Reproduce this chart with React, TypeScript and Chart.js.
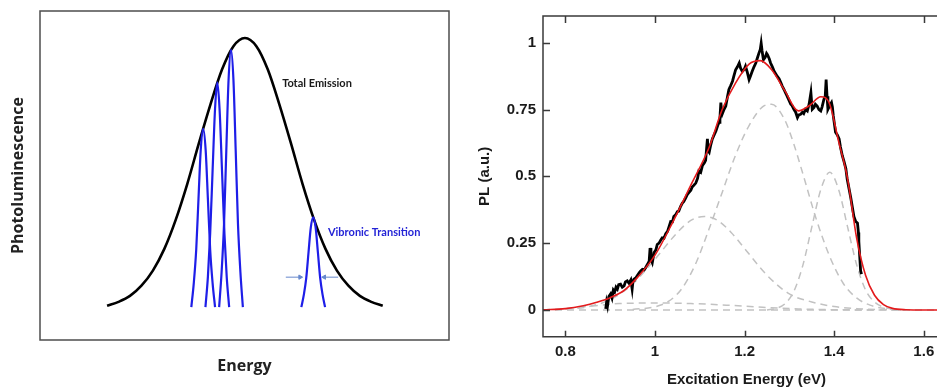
import React, { useEffect, useRef } from "react";
import { Chart, registerables } from "chart.js";

Chart.register(...registerables);

// ---------------- Left panel (schematic, arbitrary units 0..100) ----------------
const emissionX = [16.4, 19.2, 22.0, 24.8, 27.6, 30.4, 33.2, 36.0, 38.8, 41.7, 44.5, 47.3, 50.1, 52.9, 55.7, 58.5, 61.4, 64.2, 67.0, 69.8, 72.6, 75.4, 78.2, 81.0, 83.8];
const emissionY = [10.4, 11.6, 13.4, 16.5, 21.1, 27.7, 36.6, 47.4, 59.6, 71.7, 82.2, 89.3, 91.8, 89.3, 82.2, 71.7, 59.6, 47.4, 36.6, 27.7, 21.1, 16.5, 13.4, 11.6, 10.4];

const peak1X = [37.0, 37.6, 38.2, 38.75, 39.3, 39.9, 40.5, 41.05, 41.6, 42.2, 42.8];
const peak1Y = [10, 17.3, 27.6, 42.9, 57.8, 64.2, 57.8, 42.9, 27.6, 17.3, 10];
const peak2X = [40.45, 41.05, 41.6, 42.2, 42.8, 43.35, 43.9, 44.5, 45.1, 45.65, 46.25];
const peak2Y = [10, 19.2, 32.2, 51.5, 70.3, 78.3, 70.3, 51.5, 32.2, 19.2, 10];
const peak3X = [43.8, 44.4, 45.0, 45.55, 46.1, 46.7, 47.3, 47.85, 48.4, 49.0, 49.6];
const peak3Y = [10, 20.6, 35.4, 57.5, 79.0, 88.2, 79.0, 57.5, 35.4, 20.6, 10];
const vibronicX = [63.9, 64.5, 65.1, 65.65, 66.2, 66.8, 67.4, 67.95, 68.5, 69.1, 69.7];
const vibronicY = [10, 13.7, 18.9, 26.6, 34.1, 37.3, 34.1, 26.6, 18.9, 13.7, 10];

const arrowLeftX = [60.1, 63.6];
const arrowRightX = [72.9, 69.5];
const arrowY = [19.1, 19.1];

const leftNotes = ["Total Emission", "Vibronic Transition"];
const leftNoteX = [59.2, 70.4];
const leftNoteY = [78.1, 32.8];

const leftXTitle = "Energy";
const leftYTitle = "Photoluminescence";

// ---------------- Right panel (PL spectrum) ----------------
const xTickValues = [0.8, 1, 1.2, 1.4, 1.6];
const yTickValues = [0, 0.25, 0.5, 0.75, 1];
const rightXTitle = "Excitation Energy (eV)";
const rightYTitle = "PL (a.u.)";

const dataX = [0.890, 0.892, 0.894, 0.897, 0.901, 0.904, 0.907, 0.910, 0.913, 0.916, 0.919, 0.923, 0.927, 0.931, 0.934, 0.938, 0.942, 0.946, 0.949, 0.951, 0.953, 0.957, 0.961, 0.965, 0.968, 0.972, 0.976, 0.979, 0.983, 0.987, 0.989, 0.991, 0.994, 0.998, 1.002, 1.005, 1.009, 1.013, 1.016, 1.020, 1.024, 1.028, 1.031, 1.035, 1.039, 1.042, 1.046, 1.050, 1.053, 1.057, 1.061, 1.064, 1.068, 1.072, 1.076, 1.080, 1.083, 1.087, 1.091, 1.095, 1.098, 1.102, 1.106, 1.110, 1.113, 1.115, 1.117, 1.119, 1.121, 1.124, 1.128, 1.132, 1.136, 1.140, 1.143, 1.145, 1.147, 1.149, 1.150, 1.154, 1.158, 1.162, 1.165, 1.169, 1.173, 1.176, 1.180, 1.184, 1.188, 1.191, 1.195, 1.199, 1.202, 1.206, 1.210, 1.213, 1.217, 1.221, 1.225, 1.228, 1.232, 1.235, 1.237, 1.239, 1.242, 1.246, 1.249, 1.251, 1.255, 1.258, 1.262, 1.266, 1.269, 1.273, 1.277, 1.281, 1.284, 1.288, 1.292, 1.295, 1.299, 1.303, 1.306, 1.310, 1.314, 1.318, 1.321, 1.325, 1.329, 1.332, 1.336, 1.340, 1.344, 1.348, 1.350, 1.351, 1.355, 1.358, 1.362, 1.366, 1.370, 1.373, 1.377, 1.380, 1.382, 1.384, 1.386, 1.390, 1.394, 1.396, 1.398, 1.401, 1.403, 1.407, 1.411, 1.414, 1.418, 1.422, 1.426, 1.429, 1.433, 1.437, 1.441, 1.444, 1.448, 1.450, 1.452, 1.454, 1.455, 1.457, 1.459, 1.461];
const dataY = [0.004, 0.03, 0.015, 0.05, 0.06, 0.045, 0.075, 0.068, 0.085, 0.078, 0.095, 0.097, 0.085, 0.09, 0.105, 0.109, 0.1, 0.112, 0.078, 0.11, 0.115, 0.12, 0.13, 0.14, 0.146, 0.152, 0.15, 0.158, 0.17, 0.183, 0.232, 0.19, 0.177, 0.215, 0.225, 0.245, 0.25, 0.262, 0.27, 0.268, 0.285, 0.294, 0.31, 0.331, 0.33, 0.35, 0.356, 0.368, 0.37, 0.387, 0.4, 0.405, 0.418, 0.432, 0.44, 0.448, 0.46, 0.467, 0.475, 0.492, 0.52, 0.515, 0.541, 0.55, 0.56, 0.6, 0.64, 0.595, 0.59, 0.615, 0.64, 0.655, 0.67, 0.69, 0.702, 0.72, 0.776, 0.74, 0.733, 0.75, 0.763, 0.8, 0.825, 0.84, 0.856, 0.875, 0.899, 0.91, 0.924, 0.905, 0.893, 0.9, 0.912, 0.89, 0.862, 0.875, 0.893, 0.91, 0.924, 0.94, 0.961, 0.975, 0.998, 0.97, 0.936, 0.945, 0.96, 0.955, 0.94, 0.924, 0.91, 0.893, 0.885, 0.874, 0.865, 0.85, 0.838, 0.825, 0.81, 0.8, 0.785, 0.77, 0.765, 0.751, 0.74, 0.72, 0.73, 0.732, 0.74, 0.735, 0.751, 0.745, 0.77, 0.813, 0.77, 0.751, 0.758, 0.77, 0.763, 0.75, 0.745, 0.76, 0.788, 0.8, 0.862, 0.8, 0.751, 0.765, 0.776, 0.76, 0.726, 0.69, 0.665, 0.655, 0.64, 0.61, 0.578, 0.555, 0.529, 0.49, 0.455, 0.42, 0.38, 0.35, 0.331, 0.328, 0.325, 0.29, 0.257, 0.2, 0.146, 0.134];

const fitX = [0.75, 0.80, 0.84, 0.87, 0.90, 0.93, 0.96, 1.00, 1.04, 1.08, 1.12, 1.15, 1.18, 1.21, 1.235, 1.26, 1.29, 1.32, 1.345, 1.37, 1.39, 1.41, 1.43, 1.45, 1.47, 1.49, 1.51, 1.53, 1.56, 1.60, 1.66];
const fitY = [0.001, 0.005, 0.016, 0.029, 0.046, 0.072, 0.12, 0.205, 0.33, 0.467, 0.605, 0.75, 0.85, 0.92, 0.933, 0.9, 0.82, 0.745, 0.765, 0.798, 0.77, 0.63, 0.49, 0.27, 0.13, 0.055, 0.02, 0.006, 0.001, 0, 0];

const comp1X = [0.8, 0.85, 0.9, 0.95, 1.0, 1.05, 1.08, 1.11, 1.14, 1.17, 1.2, 1.25, 1.3, 1.35, 1.4, 1.45, 1.5, 1.55];
const comp1Y = [0.003, 0.012, 0.039, 0.097, 0.19, 0.29, 0.335, 0.35, 0.335, 0.29, 0.23, 0.13, 0.06, 0.03, 0.013, 0.005, 0.001, 0];
const comp2X = [0.95, 1.0, 1.03, 1.06, 1.09, 1.12, 1.15, 1.18, 1.21, 1.24, 1.26, 1.29, 1.31, 1.33, 1.36, 1.39, 1.42, 1.45, 1.48, 1.52, 1.56];
const comp2Y = [0.002, 0.012, 0.032, 0.08, 0.17, 0.3, 0.44, 0.58, 0.69, 0.76, 0.77, 0.71, 0.62, 0.51, 0.34, 0.2, 0.1, 0.045, 0.018, 0.004, 0];
const comp3X = [1.25, 1.27, 1.29, 1.31, 1.33, 1.35, 1.37, 1.39, 1.41, 1.43, 1.45, 1.47, 1.49, 1.52, 1.55];
const comp3Y = [0, 0.006, 0.023, 0.07, 0.167, 0.31, 0.45, 0.515, 0.45, 0.31, 0.17, 0.075, 0.03, 0.006, 0];
const comp4X = [0.75, 0.8, 0.86, 0.92, 1.0, 1.08, 1.16, 1.24, 1.32, 1.4, 1.5];
const comp4Y = [0, 0.005, 0.015, 0.024, 0.026, 0.024, 0.018, 0.01, 0.004, 0.001, 0];
const baseX = [0.75, 1.66];
const baseY = [0, 0];

const pts = (xs: number[], ys: number[]) => xs.map((x, i) => ({ x, y: ys[i] }));

const leftBoxPlugin = {
  id: "leftBox",
  afterDraw(chart: any) {
    const { ctx, chartArea: a, scales } = chart;
    ctx.save();
    ctx.strokeStyle = "#4d4d4d";
    ctx.lineWidth = 1.5;
    ctx.strokeRect(a.left, a.top, a.right - a.left, a.bottom - a.top);
    ctx.font = "bold 11px Lato, 'Open Sans', sans-serif";
    ctx.textBaseline = "middle";
    ctx.textAlign = "left";
    leftNotes.forEach((t, i) => {
      ctx.fillStyle = i === 0 ? "#1a1a1a" : "#2424d6";
      ctx.fillText(t, scales.x.getPixelForValue(leftNoteX[i]), scales.y.getPixelForValue(leftNoteY[i]));
    });
    ctx.restore();
  },
};

function LeftPanel() {
  const ref = useRef<HTMLCanvasElement>(null);
  useEffect(() => {
    const blue = "#1e1ee8";
    const arrowBlue = "#6688cc";
    const peak = (xs: number[], ys: number[]) => ({
      data: pts(xs, ys),
      borderColor: blue,
      borderWidth: 2.2,
      pointRadius: 0,
      cubicInterpolationMode: "monotone" as const,
      order: 0,
    });
    const chart = new Chart(ref.current!, {
      type: "line",
      data: {
        datasets: [
          peak(peak1X, peak1Y),
          peak(peak2X, peak2Y),
          peak(peak3X, peak3Y),
          peak(vibronicX, vibronicY),
          {
            data: pts(emissionX, emissionY),
            borderColor: "#000",
            borderWidth: 2.6,
            pointRadius: 0,
            cubicInterpolationMode: "monotone",
            order: 1,
          },
          {
            data: pts(arrowLeftX, arrowY),
            borderColor: arrowBlue,
            borderWidth: 1,
            pointRadius: [0, 2.5],
            pointStyle: "triangle",
            rotation: [0, 90],
            pointBackgroundColor: arrowBlue,
            pointBorderColor: arrowBlue,
            order: 0,
          },
          {
            data: pts(arrowRightX, arrowY),
            borderColor: arrowBlue,
            borderWidth: 1,
            pointRadius: [0, 2.5],
            pointStyle: "triangle",
            rotation: [0, -90],
            pointBackgroundColor: arrowBlue,
            pointBorderColor: arrowBlue,
            order: 0,
          },
        ] as any,
      },
      options: {
        animation: false,
        responsive: false,
        events: [],
        layout: { padding: { top: 11, right: 21, left: 0, bottom: 0 } },
        plugins: { legend: { display: false }, tooltip: { enabled: false } },
        scales: {
          x: {
            type: "linear",
            min: 0,
            max: 100,
            grid: { display: false },
            border: { display: false },
            ticks: { display: false },
            title: {
              display: true,
              text: leftXTitle,
              color: "#222",
              font: { family: "'Open Sans', sans-serif", size: 16, weight: "bold" },
              padding: { top: 0, bottom: 13.4 },
            },
            afterFit: (s: any) => {
              s.height = 49;
            },
          },
          y: {
            type: "linear",
            min: 0,
            max: 100,
            grid: { display: false },
            border: { display: false },
            ticks: { display: false },
            title: {
              display: true,
              text: leftYTitle,
              color: "#222",
              font: { family: "'Open Sans', sans-serif", size: 16, weight: "bold" },
              padding: { top: 8.4, bottom: 0 },
            },
            afterFit: (s: any) => {
              s.width = 40;
            },
          },
        },
      },
      plugins: [leftBoxPlugin],
    });
    return () => chart.destroy();
  }, []);
  return <canvas ref={ref} width={470} height={389} />;
}

const rightAxesPlugin = {
  id: "rightAxes",
  afterDatasetsDraw(chart: any) {
    const { ctx, chartArea: a, scales } = chart;
    ctx.save();
    ctx.strokeStyle = "#3a3a3a";
    ctx.lineWidth = 1.5;
    ctx.beginPath();
    ctx.moveTo(a.right + 10, a.top);
    ctx.lineTo(a.left, a.top);
    ctx.lineTo(a.left, a.bottom);
    ctx.lineTo(a.right + 10, a.bottom);
    ctx.stroke();
    ctx.beginPath();
    scales.x.ticks.forEach((t: any) => {
      const p = Math.round(scales.x.getPixelForValue(t.value)) + 0.5;
      ctx.moveTo(p, a.top);
      ctx.lineTo(p, a.top + 7);
      ctx.moveTo(p, a.bottom);
      ctx.lineTo(p, a.bottom - 6);
    });
    scales.y.ticks.forEach((t: any) => {
      const p = Math.round(scales.y.getPixelForValue(t.value)) + 0.5;
      ctx.moveTo(a.left, p);
      ctx.lineTo(a.left + 7, p);
    });
    ctx.stroke();
    ctx.restore();
  },
};

function RightPanel() {
  const ref = useRef<HTMLCanvasElement>(null);
  useEffect(() => {
    const gray = "#c2c2c2";
    const dashed = (xs: number[], ys: number[]) => ({
      data: pts(xs, ys),
      borderColor: gray,
      borderWidth: 1.5,
      borderDash: [7, 5],
      pointRadius: 0,
      cubicInterpolationMode: "monotone" as const,
      order: 3,
    });
    const tickFont = { family: "'Liberation Sans', Arial, sans-serif", size: 15, weight: "bold" as const };
    const chart = new Chart(ref.current!, {
      type: "line",
      data: {
        datasets: [
          {
            data: pts(fitX, fitY),
            borderColor: "#e31a1c",
            borderWidth: 1.6,
            pointRadius: 0,
            cubicInterpolationMode: "monotone",
            order: 0,
          },
          {
            data: pts(dataX, dataY),
            borderColor: "#000",
            borderWidth: 2.8,
            pointRadius: 0,
            tension: 0,
            order: 1,
          },
          dashed(comp1X, comp1Y),
          dashed(comp2X, comp2Y),
          dashed(comp3X, comp3Y),
          dashed(comp4X, comp4Y),
          dashed(baseX, baseY),
        ] as any,
      },
      options: {
        animation: false,
        responsive: false,
        events: [],
        layout: { padding: { top: 13, right: 10, left: 0, bottom: 0 } },
        plugins: { legend: { display: false }, tooltip: { enabled: false } },
        scales: {
          x: {
            type: "linear",
            min: 0.75,
            max: 1.6585,
            grid: { display: false, drawTicks: false },
            border: { display: false },
            afterBuildTicks: (s: any) => {
              s.ticks = xTickValues.map((v) => ({ value: v }));
            },
            ticks: {
              color: "#1a1a1a",
              font: tickFont,
              padding: 6,
              maxRotation: 0,
              autoSkip: false,
              callback: (v: any) => String(v),
            },
            title: {
              display: true,
              text: rightXTitle,
              color: "#1a1a1a",
              font: tickFont,
              padding: { top: 0, bottom: 0 },
            },
            afterFit: (s: any) => {
              s.height = 52.3;
            },
          },
          y: {
            type: "linear",
            min: -0.1,
            max: 1.1,
            grid: { display: false, drawTicks: false },
            border: { display: false },
            afterBuildTicks: (s: any) => {
              s.ticks = yTickValues.map((v) => ({ value: v }));
            },
            ticks: {
              color: "#1a1a1a",
              font: tickFont,
              padding: 7,
              autoSkip: false,
              callback: (v: any) => String(v),
            },
            title: {
              display: true,
              text: rightYTitle,
              color: "#1a1a1a",
              font: tickFont,
              padding: { top: 6, bottom: 0 },
            },
            afterFit: (s: any) => {
              s.width = 73;
            },
          },
        },
      },
      plugins: [rightAxesPlugin],
    });
    return () => chart.destroy();
  }, []);
  return <canvas ref={ref} width={490} height={389} />;
}

export default function App() {
  return (
    <div
      style={{
        position: "fixed",
        left: 0,
        top: 0,
        width: 937,
        height: 389,
        overflow: "hidden",
        background: "#fff",
      }}
    >
      <div style={{ position: "absolute", left: 0, top: 0, width: 470, height: 389 }}>
        <LeftPanel />
      </div>
      <div style={{ position: "absolute", left: 470, top: 0, width: 490, height: 389 }}>
        <RightPanel />
      </div>
    </div>
  );
}
